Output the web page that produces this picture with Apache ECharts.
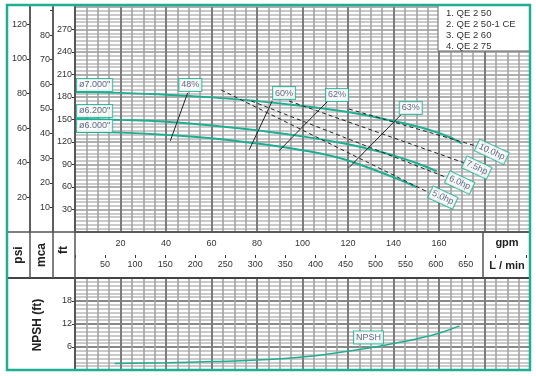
<!DOCTYPE html>
<html><head><meta charset="utf-8">
<script src="https://cdn.jsdelivr.net/npm/echarts@6/dist/echarts.min.js"></script>
<style>html,body{margin:0;padding:0;background:#fff}#c{width:536px;height:376px}</style>
</head><body><div id="c"></div>
<script>
// ---------- data (flow in gpm, head in ft) ----------
const curve7000 = [[0,186.6],[20,185.5],[40,183],[60,179.5],[80,174.5],[100,168],[120,160],[140,148],[160,132],[170,118]];
const curve6200 = [[0,150.7],[20,149.5],[40,147],[60,142],[80,135.5],[100,127.5],[120,117],[130,110],[140,102],[150,92],[159,81]];
const curve6000 = [[0,133.6],[20,132.5],[40,129.5],[60,125],[80,118],[100,109],[116,99],[125,90],[134,80],[142,70.5],[150,60]];
const npshCurve = [[17.4,1.7],[40,1.9],[60,2.2],[80,2.6],[100,3.4],[120,4.9],[130,5.8],[140,6.9],[150,8.1],[160,9.6],[169,11.5]];

const diaNames = ['ø7.000"','ø6.200"','ø6.000"'];
const diaLabelAt = [[8.6,196],[8.6,161.4],[8.6,141.5]];

const effNames = ['48%','60%','62%','63%'];
const effLines = [
  [[49.5,185.3],[41.9,121.6]],
  [[86.7,174.7],[76.6,109.6]],
  [[111.2,174.7],[89.7,108.3]],
  [[143.2,156.1],[120.4,85.8]]
];
const effLabelAt = [[50.7,196],[91.9,185.3],[115.2,182.7],[147.6,165.4]];

const hpNames = ['10.0hp','7.5hp','6.0hp','5.0hp'];
const hpLines = [
  [[120.4,164],[177.5,113.6]],
  [[94.1,174.7],[170.9,92.4]],
  [[77.5,174.7],[163.5,72.5]],
  [[64.3,189.3],[155.5,52.6]]
];
const hpLabelAt = [[183.2,106.9],[176.6,85.8],[169.1,65.8],[161.7,45.9]];

const npshNames = ['NPSH'];
const npshLabelAt = [[129,8.5]];

const legendLines = ['1. QE 2 50','2. QE 2 50-1 CE','3. QE 2 60','4. QE 2 75'];
const gpmTickMax = 160, lpmTickMax = 650, mcaTickMax = 80;

// ---------- unit conversions ----------
const FT_PER_PSI = 2.31, FT_PER_M = 3.281, LPM_PER_GPM = 3.785;
const FT_MAX = 300, GPM_MAX = 200, NPSH_MAX = 24;

const TEAL = '#1fae91';
const FONT = 'Liberation Sans, Arial, sans-serif';
const LBL = '#3a4868';

const chart = echarts.init(document.getElementById('c'));

function boxLabel(names, pos, rotate, xi, yi){
  return {
    type:'scatter', xAxisIndex:xi, yAxisIndex:yi, symbol:'circle', symbolSize:2,
    itemStyle:{color:'rgba(0,0,0,0)'}, z:10,
    data: names.map((n,i)=>({name:n, value:pos[i]})),
    label:{show:true, position:'inside', formatter:p=>p.name, rotate:rotate,
      fontFamily:FONT, fontSize:9, color:LBL, backgroundColor:'#fff',
      borderColor:TEAL, borderWidth:1, padding:[2,2,1,2]},
    labelLayout:{hideOverlap:false},
    silent:true
  };
}

const minorX = {show:true, lineStyle:{color:'#a3a3a3', width:1.6}};
const majorX = {show:true, lineStyle:{color:'#7c7c7c', width:2}};

const series = [];
[curve7000, curve6200, curve6000].forEach(c=>series.push({
  type:'line', xAxisIndex:0, yAxisIndex:0, data:c, smooth:true, symbol:'none',
  lineStyle:{color:TEAL, width:2}, z:5
}));
effLines.forEach(l=>series.push({
  type:'line', xAxisIndex:0, yAxisIndex:0, data:l, symbol:'none',
  lineStyle:{color:'#222', width:1}, z:6
}));
hpLines.forEach(l=>series.push({
  type:'line', xAxisIndex:0, yAxisIndex:0, data:l, symbol:'none',
  lineStyle:{color:'#222', width:1, type:[4,3]}, z:6
}));
series.push({
  type:'line', xAxisIndex:3, yAxisIndex:3, data:npshCurve, smooth:true, symbol:'none',
  lineStyle:{color:TEAL, width:1.5}, z:5
});
series.push(boxLabel(diaNames, diaLabelAt, 0, 0, 0));
series.push(boxLabel(effNames, effLabelAt, 0, 0, 0));
series.push(boxLabel(hpNames, hpLabelAt, -25, 0, 0));
series.push(boxLabel(npshNames, npshLabelAt, 0, 3, 3));

const axLabel = {fontFamily:FONT, fontSize:9, color:'#333', margin:3, showMinLabel:false, showMaxLabel:false};
const axLine = {show:true, lineStyle:{color:'#555', width:1.5}};
const axTick = {show:true, length:3, lineStyle:{color:'#333'}};

const option = {
  animation:false,
  textStyle:{fontFamily:FONT},
  grid:[
    {left:75, top:7, width:455, height:225},
    {left:75, top:255, width:455, height:23},
    {left:75, top:278, width:455, height:92}
  ],
  xAxis:[
    {gridIndex:0, type:'value', min:0, max:GPM_MAX, interval:20,
     axisLine:axLine, axisTick:{show:false}, axisLabel:{show:false},
     splitLine:majorX, minorTick:{show:false, splitNumber:4}, minorSplitLine:minorX},
    {gridIndex:1, type:'value', position:'top', min:0, max:GPM_MAX, interval:20,
     axisLine:{show:true, lineStyle:{color:'#555', width:1}}, axisTick:{show:false},
     axisLabel:{fontFamily:FONT, fontSize:9, color:'#333', margin:7,
       formatter:v=>(v>0 && v<=gpmTickMax)?String(v):''},
     splitLine:{show:false}},
    {gridIndex:1, type:'value', position:'top', min:0, max:GPM_MAX*LPM_PER_GPM, interval:50,
     axisLine:{show:false}, axisTick:{show:true, inside:true, length:3, lineStyle:{color:'#333'}},
     axisLabel:{inside:true, fontFamily:FONT, fontSize:9, color:'#333', margin:5,
       formatter:v=>(v>0 && v<=lpmTickMax)?String(v):''},
     splitLine:{show:false}},
    {gridIndex:2, type:'value', min:0, max:GPM_MAX, interval:20,
     axisLine:{show:false}, axisTick:{show:false}, axisLabel:{show:false},
     splitLine:majorX, minorTick:{show:false, splitNumber:4}, minorSplitLine:minorX}
  ],
  yAxis:[
    {gridIndex:0, type:'value', position:'left', min:0, max:FT_MAX, interval:30,
     axisLine:axLine, axisTick:axTick, axisLabel:axLabel,
     splitLine:{show:true, lineStyle:{color:'#969696', width:1.6}},
     minorTick:{show:false, splitNumber:6},
     minorSplitLine:{show:true, lineStyle:{color:'#b8b8b8', width:1.7}}},
    {gridIndex:0, type:'value', position:'left', offset:22, min:0, max:FT_MAX/FT_PER_M, interval:10,
     axisLine:axLine, axisTick:axTick,
     axisLabel:Object.assign({}, axLabel, {formatter:v=>(v<=mcaTickMax)?String(v):''}),
     splitLine:{show:false}},
    {gridIndex:0, type:'value', position:'left', offset:45, min:0, max:FT_MAX/FT_PER_PSI, interval:20,
     axisLine:axLine, axisTick:axTick, axisLabel:axLabel, splitLine:{show:false}},
    {gridIndex:2, type:'value', position:'left', min:0, max:NPSH_MAX, interval:6,
     axisLine:axLine, axisTick:axTick, axisLabel:axLabel,
     splitLine:{show:true, lineStyle:{color:'#888', width:2}},
     minorTick:{show:false, splitNumber:6},
     minorSplitLine:{show:true, lineStyle:{color:'#b8b8b8', width:1.7}}},
    {gridIndex:1, type:'value', show:false, min:0, max:1}
  ],
  series:series,
  graphic:[
    {type:'line', shape:{x1:7, y1:232, x2:530, y2:232}, style:{stroke:'#555', lineWidth:1.5}, z:50},
    {type:'line', shape:{x1:7, y1:278, x2:530, y2:278}, style:{stroke:'#444', lineWidth:2}, z:50},
    {type:'line', shape:{x1:30, y1:6, x2:30, y2:278}, style:{stroke:'#555', lineWidth:1.5}, z:50},
    {type:'line', shape:{x1:53, y1:6, x2:53, y2:278}, style:{stroke:'#555', lineWidth:1.5}, z:50},
    {type:'line', shape:{x1:75, y1:6, x2:75, y2:370}, style:{stroke:'#555', lineWidth:1.5}, z:50},
    {type:'line', shape:{x1:483, y1:232, x2:483, y2:278}, style:{stroke:'#555', lineWidth:1.5}, z:50},
    {type:'text', x:19, y:255, rotation:Math.PI/2, style:{text:'psi', font:'bold 12px '+FONT, fill:'#222', align:'center', verticalAlign:'middle'}, z:50},
    {type:'text', x:42, y:255, rotation:Math.PI/2, style:{text:'mca', font:'bold 12px '+FONT, fill:'#222', align:'center', verticalAlign:'middle'}, z:50},
    {type:'text', x:64, y:250, rotation:Math.PI/2, style:{text:'ft', font:'bold 12px '+FONT, fill:'#222', align:'center', verticalAlign:'middle'}, z:50},
    {type:'text', x:38, y:325, rotation:Math.PI/2, style:{text:'NPSH (ft)', font:'bold 12px '+FONT, fill:'#222', align:'center', verticalAlign:'middle'}, z:50},
    {type:'text', x:507, y:243, style:{text:'gpm', font:'bold 11px '+FONT, fill:'#222', align:'center', verticalAlign:'middle'}, z:50},
    {type:'text', x:507, y:266, style:{text:'L / min', font:'bold 11px '+FONT, fill:'#222', align:'center', verticalAlign:'middle'}, z:50},
    {type:'rect', shape:{x:438, y:5, width:92, height:46}, style:{fill:'#fff', stroke:'#666', lineWidth:1}, z:60},
    ...legendLines.map((t,i)=>({type:'text', x:446, y:13+i*11, style:{text:t, font:'9.5px '+FONT, fill:'#333', verticalAlign:'middle'}, z:61})),
    {type:'rect', shape:{x:7, y:5, width:523, height:365}, style:{fill:'none', stroke:TEAL, lineWidth:2.5}, z:70}
  ]
};
chart.setOption(option);
</script>
</body></html>
